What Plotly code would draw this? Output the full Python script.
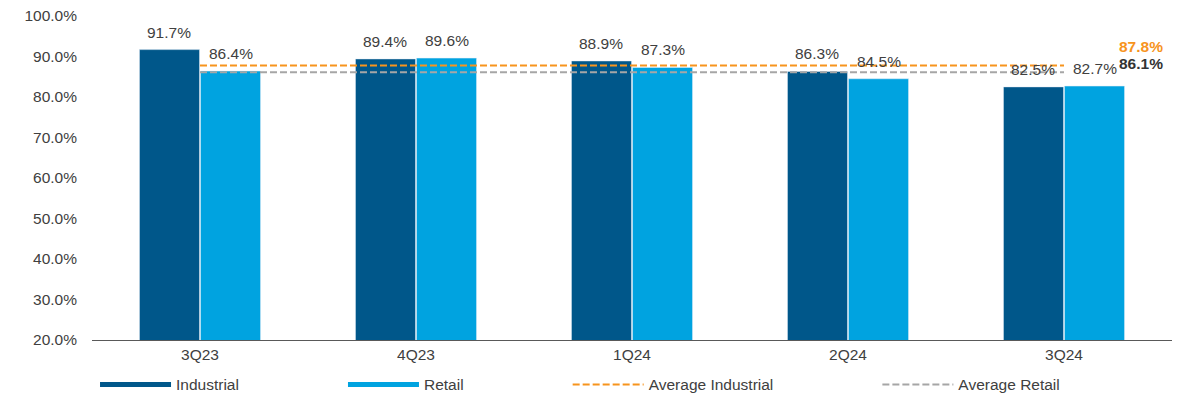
import plotly.graph_objects as go

quarters = ["3Q23", "4Q23", "1Q24", "2Q24", "3Q24"]
industrial = [91.7, 89.4, 88.9, 86.3, 82.5]
retail = [86.4, 89.6, 87.3, 84.5, 82.7]
avg_industrial = 87.8
avg_retail = 86.1

C_IND = "#00578A"
C_RET = "#00A3E0"
C_AVG_IND = "#F7941D"
C_AVG_RET = "#A6A6A6"
TXT = "#404040"
FONT = "Arial, Liberation Sans, sans-serif"
FS = 15.5

fig = go.Figure()
fig.add_trace(go.Bar(x=quarters, y=industrial, marker_color=C_IND, showlegend=False, hoverinfo="skip"))
fig.add_trace(go.Bar(x=quarters, y=retail, marker_color=C_RET, showlegend=False, hoverinfo="skip"))

DASH = "7px,3px"
# average lines
fig.add_trace(go.Scatter(x=[quarters[0], quarters[-1]], y=[avg_industrial] * 2, mode="lines",
                         line=dict(color=C_AVG_IND, width=2, dash=DASH), showlegend=False))
fig.add_trace(go.Scatter(x=[quarters[0], quarters[-1]], y=[avg_retail] * 2, mode="lines",
                         line=dict(color=C_AVG_RET, width=2, dash=DASH), showlegend=False))

# legend entries
gap = "\u00a0" * 23
fig.add_trace(go.Scatter(x=[None], y=[None], mode="lines", name="Industrial" + gap,
                         line=dict(color=C_IND, width=5)))
fig.add_trace(go.Scatter(x=[None], y=[None], mode="lines", name="Retail" + gap,
                         line=dict(color=C_RET, width=5)))
fig.add_trace(go.Scatter(x=[None], y=[None], mode="lines", name="Average Industrial" + gap,
                         line=dict(color=C_AVG_IND, width=2, dash=DASH)))
fig.add_trace(go.Scatter(x=[None], y=[None], mode="lines", name="Average Retail",
                         line=dict(color=C_AVG_RET, width=2, dash=DASH)))

annotations = []
for q, v in zip(quarters, industrial):
    annotations.append(dict(x=q, y=v, xref="x", yref="y", text=f"{v:.1f}%", showarrow=False,
                            xshift=-31, yshift=7, yanchor="bottom",
                            font=dict(size=FS, color=TXT, family=FONT)))
for q, v in zip(quarters, retail):
    annotations.append(dict(x=q, y=v, xref="x", yref="y", text=f"{v:.1f}%", showarrow=False,
                            xshift=31, yshift=7, yanchor="bottom",
                            font=dict(size=FS, color=TXT, family=FONT)))
annotations.append(dict(x=1, y=avg_industrial, xref="paper", yref="y", text=f"<b>{avg_industrial:.1f}%</b>",
                        showarrow=False, xanchor="right", xshift=-7, yshift=19,
                        font=dict(size=FS, color=C_AVG_IND, family=FONT)))
annotations.append(dict(x=1, y=avg_retail, xref="paper", yref="y", text=f"<b>{avg_retail:.1f}%</b>",
                        showarrow=False, xanchor="right", xshift=-7, yshift=9,
                        font=dict(size=FS, color="#333333", family=FONT)))

fig.update_layout(
    width=1188, height=396,
    margin=dict(l=92, r=16, t=16, b=56, autoexpand=False),
    paper_bgcolor="white", plot_bgcolor="white",
    barmode="group", bargap=0.435, bargroupgap=0.016,
    font=dict(family=FONT, size=FS, color=TXT),
    annotations=annotations,
    legend=dict(orientation="h", x=0.0028, xanchor="left", y=-0.086, yanchor="top",
                itemwidth=71, font=dict(size=FS, color=TXT, family=FONT),
                bgcolor="rgba(0,0,0,0)", tracegroupgap=0),
    xaxis=dict(type="category", showgrid=False, showline=True, linecolor="#595959", linewidth=1,
               ticks="", tickfont=dict(size=FS, color=TXT), fixedrange=True),
    yaxis=dict(range=[20, 100], dtick=10, tick0=20, showgrid=False, zeroline=False,
               showline=False, ticksuffix="%", tickformat=".1f", ticks="",
               ticklabelstandoff=14,
               tickfont=dict(size=FS, color=TXT), fixedrange=True),
)

fig.write_html("out.html", config={"displayModeBar": False},
               post_script="document.body.style.margin='0';document.body.style.overflow='hidden';")
